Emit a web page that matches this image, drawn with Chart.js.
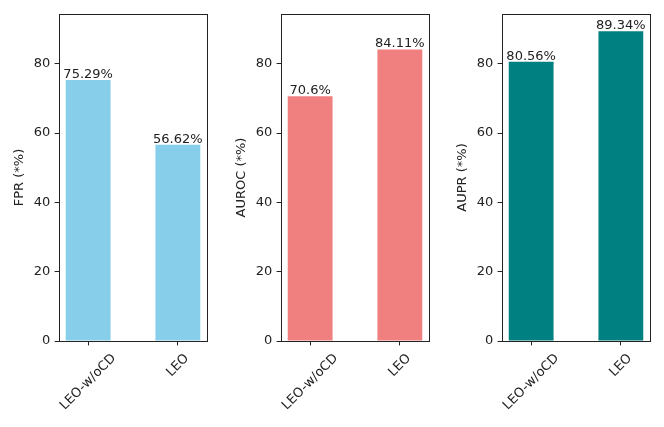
<!DOCTYPE html>
<html>
<head>
<meta charset="utf-8">
<script src="https://cdn.jsdelivr.net/npm/chart.js@4/dist/chart.umd.min.js"></script>
<style>
  html, body { margin: 0; padding: 0; background: #fff; }
  #wrap { position: relative; width: 664px; height: 427px; overflow: hidden; }
  canvas { position: absolute; top: 0; }
</style>
</head>
<body>
<div id="wrap">
  <canvas id="FprChart" width="220" height="427" style="left:0px"></canvas>
  <canvas id="AurocChart" width="220" height="427" style="left:222px"></canvas>
  <canvas id="AuprChart" width="220" height="427" style="left:443px"></canvas>
</div>
<script>
// Données
const categories = ['LEO-w/oCD', 'LEO'];
const fprValues = [75.29, 56.62];
const aurocValues = [70.6, 84.11];
const auprValues = [80.56, 89.34];
const metricTitles = ['FPR (*%)', 'AUROC (*%)', 'AUPR (*%)'];
const yTicks = [0, 20, 40, 60, 80];
const xTicks = [0, 1];
const yMax = 94.34;

const FONT = '"DejaVu Sans", sans-serif';
const FONT_SIZE = 13;
const INK = '#222';

/**
 * Cadre des axes, étiquettes de valeur au-dessus des barres
 * et étiquettes de catégorie inclinées à 45° (centrées sur la graduation).
 */
const boxAndLabels = {
    id: 'boxAndLabels',
    afterDraw(chart) {
        const { ctx, chartArea: a, scales: { x } } = chart;
        ctx.save();
        ctx.strokeStyle = INK;
        ctx.lineWidth = 1;
        const l = Math.round(a.left) + 0.5, t = Math.round(a.top) + 0.5;
        const r = Math.round(a.right) + 0.5, b = Math.round(a.bottom) + 0.5;
        ctx.strokeRect(l, t, r - l, b - t);

        ctx.fillStyle = INK;
        ctx.font = `${FONT_SIZE}px ${FONT}`;

        // valeurs au-dessus des barres
        const values = chart.data.datasets[0].data;
        chart.getDatasetMeta(0).data.forEach((bar, i) => {
            ctx.textAlign = 'center';
            ctx.textBaseline = 'alphabetic';
            ctx.fillText(`${values[i].y}%`, bar.x, bar.y - 2);
        });

        // catégories inclinées
        xTicks.forEach((v, i) => {
            const label = categories[i];
            const px = x.getPixelForValue(v);
            const w = ctx.measureText(label).width;
            const h = FONT_SIZE * 1.164;
            const cy = a.bottom + 10 + (w + h) * Math.SQRT1_2 / 2;
            ctx.save();
            ctx.translate(px, cy);
            ctx.rotate(-Math.PI / 4);
            ctx.textAlign = 'center';
            ctx.textBaseline = 'middle';
            ctx.fillText(label, 0, 0);
            ctx.restore();
        });
        ctx.restore();
    }
};

/**
 * Rend un panneau (barres verticales) dans le canvas donné.
 */
function renderPanel(elementId, values, color, title) {
    new Chart(document.getElementById(elementId).getContext('2d'), {
        type: 'bar',
        data: {
            datasets: [{
                label: title,
                data: values.map((v, i) => ({ x: xTicks[i], y: v })),
                backgroundColor: color,
                borderWidth: 0,
                categoryPercentage: 1,
                barPercentage: 0.5
            }]
        },
        options: {
            responsive: false,
            animation: false,
            layout: { padding: { top: 14, right: 13, left: 0, bottom: 0 } },
            scales: {
                x: {
                    type: 'linear',
                    offset: false,
                    min: -0.325,
                    max: 1.325,
                    afterBuildTicks: (scale) => { scale.ticks = xTicks.map(v => ({ value: v })); },
                    afterFit: (scale) => { scale.height = 86; },
                    ticks: { display: false },
                    grid: { display: true, offset: false, drawOnChartArea: false, drawTicks: true, tickLength: 4.4, color: INK },
                    border: { display: false }
                },
                y: {
                    min: 0,
                    max: yMax,
                    afterBuildTicks: (scale) => { scale.ticks = yTicks.map(v => ({ value: v })); },
                    afterFit: (scale) => { scale.width = 59; },
                    ticks: { color: INK, padding: 4.4, font: { family: FONT, size: FONT_SIZE } },
                    grid: { display: true, drawOnChartArea: false, drawTicks: true, tickLength: 4.4, color: INK },
                    border: { display: false },
                    title: {
                        display: true,
                        text: title,
                        color: INK,
                        padding: { top: 11.5, bottom: 0 },
                        font: { family: FONT, size: FONT_SIZE }
                    }
                }
            },
            plugins: { legend: { display: false }, tooltip: { enabled: false } }
        },
        plugins: [boxAndLabels]
    });
}

renderPanel('FprChart', fprValues, '#87CEEB', metricTitles[0]);
renderPanel('AurocChart', aurocValues, '#F08080', metricTitles[1]);
renderPanel('AuprChart', auprValues, '#008080', metricTitles[2]);
</script>
</body>
</html>
